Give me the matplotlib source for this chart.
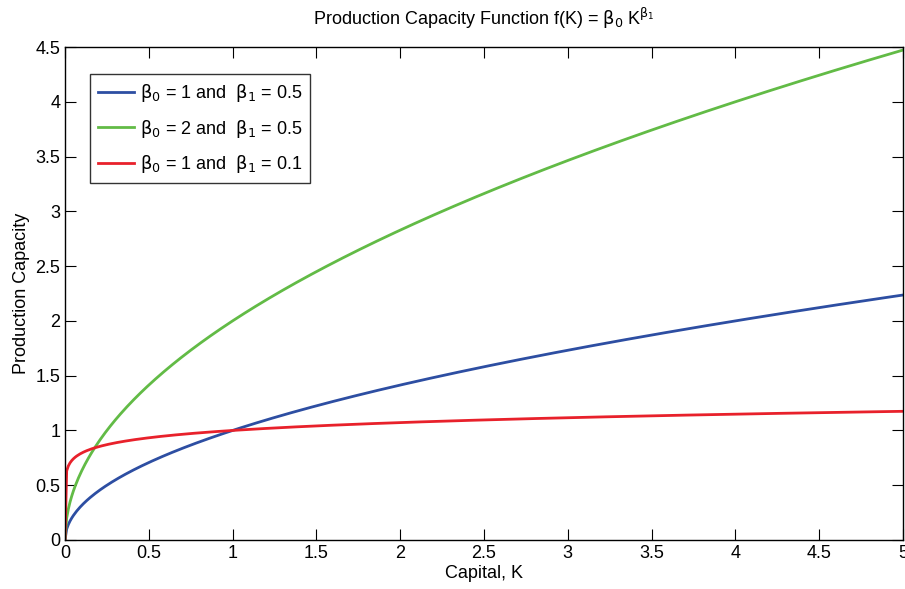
import numpy as np
import matplotlib.pyplot as plt

# parameters of f(K) = b0 * K^b1, one per curve
beta0 = [1, 2, 1]
beta1 = [0.5, 0.5, 0.1]
colors = ['#2d4ea2', '#62bb46', '#e8212b']
labels = [r'$\beta_0$ = 1 and  $\beta_1$ = 0.5',
          r'$\beta_0$ = 2 and  $\beta_1$ = 0.5',
          r'$\beta_0$ = 1 and  $\beta_1$ = 0.1']
K = np.arange(0, 5.0001, 0.01)  # capital grid

plt.rcParams['font.family'] = ['Liberation Sans', 'DejaVu Sans']
plt.rcParams['mathtext.fontset'] = 'custom'
plt.rcParams['mathtext.rm'] = 'DejaVu Sans'
plt.rcParams['mathtext.it'] = 'DejaVu Sans'

fig = plt.figure(figsize=(9.05, 5.89), dpi=100)
ax = fig.add_axes([65/905, 1-540/589, 838/905, 493/589])

for b0, b1, c, lab in zip(beta0, beta1, colors, labels):
    ax.plot(K, b0 * K**b1, color=c, lw=2, label=lab)

ax.set_xlim(0, 5)
ax.set_ylim(0, 4.5)
ax.set_xticks(np.arange(0, 5.01, 0.5))
ax.set_yticks(np.arange(0, 4.51, 0.5))
ax.set_xticklabels(['0', '0.5', '1', '1.5', '2', '2.5', '3', '3.5', '4', '4.5', '5'])
ax.set_yticklabels(['0', '0.5', '1', '1.5', '2', '2.5', '3', '3.5', '4', '4.5'])
ax.tick_params(direction='in', top=True, right=True, length=8, labelsize=13, width=0.8)
for s in ax.spines.values():
    s.set_linewidth(1)

ax.set_xlabel('Capital, K', fontsize=13, labelpad=2)
ax.set_ylabel('Production Capacity', fontsize=13, labelpad=4)
ax.set_title(r'Production Capacity Function f(K) = $\beta_0$ K$^{\beta_1}$', fontsize=13, pad=16)

leg = ax.legend(loc='upper left', bbox_to_anchor=(0.03, 0.945), fontsize=13, frameon=True,
                fancybox=False, edgecolor='black', handlelength=2.0, handletextpad=0.3,
                borderpad=0.45, labelspacing=0.75, borderaxespad=0)
leg.get_frame().set_linewidth(1)

plt.savefig('out.png', dpi=100)
